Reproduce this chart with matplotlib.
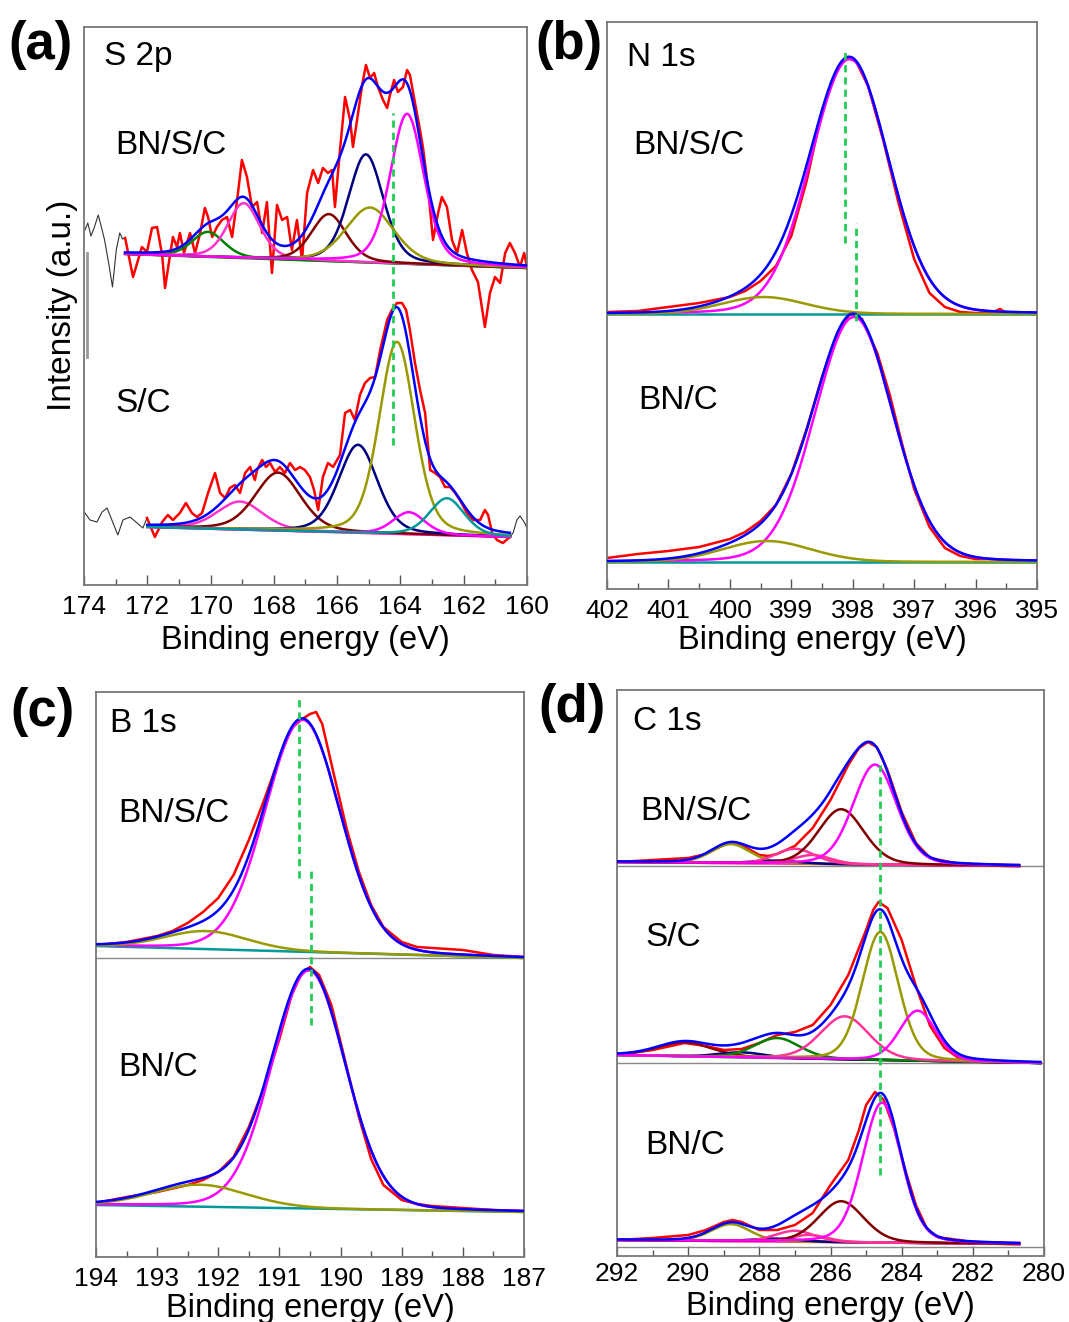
import numpy as np
import matplotlib.pyplot as plt
from matplotlib.ticker import MultipleLocator

plt.rcParams['font.family'] = ['Liberation Sans', 'DejaVu Sans']

W, H = 1069, 1322

# ---------------- (a) S 2p ----------------
# BN/S/C measured curve (binding energy, intensity a.u.)
a_top_e = [172.70, 172.45, 172.17, 172.01, 171.85, 171.69, 171.53, 171.44, 171.28, 171.19,
           171.06, 170.97, 170.84, 170.65, 170.49, 170.33, 170.18, 170.08, 169.95, 169.80,
           169.64, 169.48, 169.32, 169.16, 169.01, 168.85, 168.69, 168.53, 168.37, 168.22,
           168.06, 167.90, 167.74, 167.58, 167.43, 167.27, 167.11, 166.95, 166.76, 166.60,
           166.45, 166.29, 166.16, 166.07, 165.91, 165.75, 165.59, 165.50, 165.37, 165.21,
           165.09, 164.96, 164.83, 164.71, 164.55, 164.42, 164.33, 164.20, 164.08, 163.92,
           163.79, 163.70, 163.54, 163.41, 163.29, 163.13, 162.97, 162.81, 162.69, 162.53,
           162.37, 162.21, 162.05, 161.90, 161.74, 161.55, 161.33, 161.17, 161.01, 160.85,
           160.69, 160.54, 160.38, 160.22, 160.09, 160.00]
a_top_i = [347, 308, 338, 333, 357, 358, 330, 297, 330, 348,
           338, 352, 332, 352, 332, 352, 377, 368, 348, 358,
           365, 368, 348, 385, 425, 408, 378, 383, 352, 383,
           312, 380, 365, 368, 335, 365, 325, 392, 415, 402,
           417, 412, 415, 378, 435, 488, 465, 438, 465, 500,
           520, 507, 512, 498, 485, 477, 490, 505, 493, 498,
           515, 510, 482, 460, 438, 398, 345, 372, 388, 378,
           345, 332, 355, 332, 315, 303, 258, 292, 308, 302,
           332, 342, 332, 318, 332, 318]
# survey tail drawn in thin black
a_top_tail_e = [173.97, 173.88, 173.78, 173.68, 173.55, 173.45, 173.35, 173.21, 173.10, 172.98,
                172.87, 172.78, 172.70]
a_top_tail_i = [355, 362, 349, 357, 370, 358, 345, 320, 298, 335, 352, 346, 347]
# fitted components: centre (eV), height, FWHM
a_top_centers = [170.08, 168.95, 166.26, 165.09, 164.96, 163.79]
a_top_heights = [25, 55, 47, 108, 55, 150]
a_top_fwhm = [1.2, 1.2, 1.3, 1.3, 1.8, 1.25]
a_top_base = (331, 317)

# S/C measured curve
a_bot_e = [172.01, 171.76, 171.53, 171.35, 171.19, 170.97, 170.78, 170.59, 170.43, 170.27,
           170.08, 169.86, 169.70, 169.54, 169.39, 169.23, 169.07, 168.91, 168.75, 168.60,
           168.53, 168.37, 168.25, 168.12, 167.96, 167.81, 167.65, 167.49, 167.33, 167.17,
           167.02, 166.86, 166.73, 166.60, 166.45, 166.29, 166.13, 165.91, 165.75, 165.59,
           165.44, 165.28, 165.12, 164.96, 164.80, 164.64, 164.42, 164.27, 164.11, 163.95,
           163.82, 163.70, 163.54, 163.38, 163.22, 163.06, 162.91, 162.75, 162.59, 162.43,
           162.27, 162.12, 161.90, 161.71, 161.48, 161.33, 161.23, 161.10, 160.95, 160.76,
           160.54]
a_bot_i = [67, 48, 63, 70, 65, 72, 82, 72, 68, 72,
           92, 112, 92, 87, 97, 100, 92, 112, 118, 105,
           115, 125, 118, 122, 113, 118, 112, 122, 115, 118,
           115, 108, 95, 75, 108, 122, 118, 130, 172, 175,
           165, 190, 202, 207, 208, 235, 265, 275, 282, 282,
           275, 255, 222, 195, 172, 115, 112, 108, 98, 98,
           92, 85, 72, 65, 65, 75, 70, 52, 45, 42,
           48]
a_bot_tail_e = [173.97, 173.81, 173.59, 173.43, 173.27, 173.12, 172.93, 172.77, 172.55, 172.32,
                172.14, 172.01]
a_bot_tail_i = [72, 65, 63, 73, 77, 65, 50, 65, 68, 62, 57, 67]
a_bot_end_e = [160.54, 160.44, 160.32, 160.22, 160.09, 160.00]
a_bot_end_i = [48, 52, 65, 69, 63, 57]
a_bot_centers = [169.07, 167.87, 165.34, 164.11, 163.73, 162.53]
a_bot_heights = [28, 58, 88, 192, 22, 37]
a_bot_fwhm = [1.7, 1.7, 1.45, 1.33, 1.2, 1.3]
a_bot_base = (58, 48)

# ---------------- (b) N 1s ----------------
b_top_e = [402.0, 401.5, 401.0, 400.5, 400.0, 399.75, 399.5, 399.25, 399.0, 398.75,
           398.5, 398.25, 398.1, 397.95, 397.75, 397.5, 397.25, 397.0, 396.75, 396.5,
           396.25, 396.0, 395.75, 395.6, 395.5, 395.0]
b_top_i = [277, 278, 282, 286, 292, 298, 308, 323, 353, 408,
           478, 520, 531, 528, 503, 448, 385, 330, 296, 282,
           277, 276, 276, 280, 276, 275]
b_top_centers = [398.05, 399.45]
b_top_heights = [255, 17]
b_top_fwhm = [1.5, 1.6]
b_top_base = (275, 275)

b_bot_e = [402.0, 401.5, 401.0, 400.5, 400.0, 399.75, 399.5, 399.25, 399.0, 398.75,
           398.5, 398.25, 398.05, 397.85, 397.6, 397.4, 397.2, 397.0, 396.75, 396.5,
           396.25, 396.0, 395.7, 395.5, 395.0]
b_bot_i = [31, 35, 38, 42, 50, 57, 68, 84, 115, 160,
           212, 256, 275, 270, 236, 195, 146, 100, 62, 41,
           33, 30, 30, 29, 28]
b_bot_centers = [397.98, 399.4]
b_bot_heights = [245, 21]
b_bot_fwhm = [1.5, 1.7]
b_bot_base = (27, 27)

# ---------------- (c) B 1s ----------------
c_top_e = [194.0, 193.5, 193.0, 192.75, 192.5, 192.25, 192.0, 191.75, 191.5, 191.25,
           191.0, 190.8, 190.65, 190.5, 190.4, 190.3, 190.1, 189.9, 189.7, 189.5,
           189.3, 189.0, 188.75, 188.5, 188.0, 187.5, 187.0]
c_top_i = [312, 315, 321, 326, 334, 345, 359, 382, 417, 457,
           500, 529, 537, 543, 545, 533, 480, 428, 385, 352,
           330, 315, 310, 309, 307, 302, 300]
c_top_centers = [190.62, 192.2]
c_top_heights = [232, 18]
c_top_fwhm = [1.45, 1.6]
c_top_base = (311, 299)

c_bot_e = [194.0, 193.5, 193.0, 192.5, 192.25, 192.0, 191.75, 191.5, 191.25, 191.0,
           190.8, 190.65, 190.5, 190.35, 190.15, 189.9, 189.7, 189.5, 189.3, 189.0,
           188.75, 188.5, 188.0, 187.5, 187.0]
c_bot_i = [54, 60, 65, 72, 77, 85, 100, 130, 170, 218,
           262, 282, 290, 282, 252, 190, 140, 98, 72, 57,
           53, 51, 49, 47, 46]
c_bot_centers = [190.52, 192.3]
c_bot_heights = [238, 22]
c_bot_fwhm = [1.42, 1.8]
c_bot_base = (52, 45)

# ---------------- (d) C 1s ----------------
d_top_e = [292.0, 291.0, 290.0, 289.5, 289.0, 288.75, 288.5, 288.0, 287.75, 287.5,
           287.0, 286.5, 286.0, 285.5, 285.2, 284.95, 284.7, 284.4, 284.0, 283.6,
           283.2, 282.5, 282.0, 281.0, 280.7]
d_top_i = [386, 388, 390, 394, 403, 406, 403, 393, 392, 394,
           402, 420, 448, 483, 500, 506, 501, 478, 436, 405,
           390, 385, 384, 383, 383]
d_top_centers = [288.8, 287.5, 287.0, 286.5, 285.7, 284.75]
d_top_heights = [19, 3, 15, 9, 55, 100]
d_top_fwhm = [1.3, 1.5, 1.3, 1.2, 1.5, 1.45]
d_top_base = (386, 382)

d_mid_e = [292.0, 291.0, 290.1, 289.5, 289.0, 288.5, 288.0, 287.5, 287.0, 286.5,
           286.0, 285.5, 285.0, 284.8, 284.65, 284.4, 284.0, 283.6, 283.2, 282.8,
           282.4, 282.0, 281.0, 280.1]
d_mid_i = [193, 198, 205, 202, 198, 199, 205, 213, 216, 223,
           243, 273, 318, 338, 346, 340, 308, 262, 222, 200,
           190, 187, 186, 185]
d_mid_centers = [290.1, 288.5, 287.5, 285.6, 284.6, 283.55]
d_mid_heights = [14, 5, 20, 43, 128, 50]
d_mid_fwhm = [1.8, 1.5, 1.5, 1.6, 1.2, 1.2]
d_mid_base = (193, 185)

d_bot_e = [292.0, 291.0, 290.0, 289.5, 289.0, 288.75, 288.5, 288.0, 287.5, 287.0,
           286.5, 286.0, 285.5, 285.2, 285.0, 284.75, 284.5, 284.2, 283.9, 283.6,
           283.3, 283.0, 282.0, 281.0, 280.7]
d_bot_i = [8, 10, 13, 18, 26, 28, 26, 18, 18, 23,
           35, 63, 88, 118, 143, 156, 148, 118, 78, 43,
           20, 11, 6, 5, 5]
d_bot_centers = [288.8, 287.5, 287.0, 286.6, 285.7, 284.55]
d_bot_heights = [17, 3, 11, 7, 41, 140]
d_bot_fwhm = [1.3, 1.5, 1.3, 1.2, 1.5, 1.3]
d_bot_base = (8, 4)

# colours of the fitted components
a_top_colors = ['#008000', '#ff33cc', '#800000', '#000080', '#999900', '#ff00ff']
a_bot_colors = ['#ff33cc', '#800000', '#000080', '#999900', '#ff00ff', '#009999']
bc_colors = ['#ff00ff', '#999900']
d_top_colors = ['#999900', '#000080', '#ff3399', '#ff3399', '#800000', '#ff00ff']
d_mid_colors = ['#990000', '#000080', '#008000', '#ff3399', '#999900', '#ff00ff']
d_bot_colors = ['#999900', '#000080', '#ff3399', '#ff3399', '#800000', '#ff00ff']


def peak(x, c, h, w, eta):
    g = np.exp(-4 * np.log(2) * (x - c) ** 2 / w ** 2)
    lo = 1.0 / (1 + 4 * (x - c) ** 2 / w ** 2)
    return h * ((1 - eta) * g + eta * lo)


def draw_fit(ax, e_hi, e_lo, raw_e, raw_i, base, centers, heights, widths, colors,
             base_color, eta=0.2, lw=1.8):
    x = np.linspace(e_lo, e_hi, 600)
    b = base[1] + (base[0] - base[1]) * (x - e_lo) / (e_hi - e_lo)
    ax.plot(raw_e, raw_i, color='#ff0000', lw=lw, zorder=2)
    ax.plot(x, b, color=base_color, lw=lw, zorder=3)
    total = np.zeros_like(x)
    for c, h, w, col in zip(centers, heights, widths, colors):
        p = peak(x, c, h, w, eta)
        total += p
        ax.plot(x, b + p, color=col, lw=lw, zorder=3)
    ax.plot(x, b + total, color='#0000ff', lw=lw, zorder=4)


def make_axes(fig, left, top, right, bottom, xmax, xmin, major, ymin, ymax, pad=7):
    ax = fig.add_axes([left / W, 1 - bottom / H, (right - left) / W, (bottom - top) / H])
    ax.set_xlim(xmax, xmin)
    ax.set_ylim(ymin, ymax)
    ax.xaxis.set_major_locator(MultipleLocator(major))
    ax.xaxis.set_minor_locator(MultipleLocator(major / 2))
    ax.set_yticks([])
    ax.tick_params(axis='x', which='both', direction='in', top=False, labelsize=19,
                   pad=pad, colors='black')
    ax.tick_params(axis='x', which='major', length=7, width=1.0, color='#555555')
    ax.tick_params(axis='x', which='minor', length=4, width=1.0, color='#555555')
    for s in ax.spines.values():
        s.set_color('#777777')
        s.set_linewidth(1.3)
    return ax


def label(fig, x, y, s, size=24, weight='normal', ha='left', rot=0):
    fig.text(x / W, 1 - y / H, s, fontsize=size, fontweight=weight, ha=ha, va='center',
             rotation=rot, color='black')


def vdash(ax, e, y0, y1):
    ax.plot([e, e], [y0, y1], color='#22cc55', lw=2.0, linestyle=(0, (2.6, 1.8)), zorder=5)


fig = plt.figure(figsize=(W / 100, H / 100), dpi=100)

# (a)
ax = make_axes(fig, 84, 27, 527, 585, 174, 160, 2, 0, 558)
ax.plot(a_top_tail_e, a_top_tail_i, color='#333333', lw=0.8)
ax.plot(a_bot_tail_e, a_bot_tail_i, color='#333333', lw=0.8)
ax.plot(a_bot_end_e, a_bot_end_i, color='#333333', lw=0.8)
draw_fit(ax, 172.7, 160.0, a_top_e, a_top_i, a_top_base, a_top_centers, a_top_heights,
         a_top_fwhm, a_top_colors, '#008000', eta=0.3)
draw_fit(ax, 172.0, 160.54, a_bot_e, a_bot_i, a_bot_base, a_bot_centers, a_bot_heights,
         a_bot_fwhm, a_bot_colors, '#ff1493', eta=0.3)
vdash(ax, 164.23, 140, 472)
ax.plot([173.9, 173.9], [228, 332], color='#999999', lw=2.0, clip_on=False)

# (b)
ax = make_axes(fig, 607, 22, 1037, 589, 402, 395, 1, 0, 567)
draw_fit(ax, 402.0, 395.0, b_top_e, b_top_i, b_top_base, b_top_centers, b_top_heights,
         b_top_fwhm, bc_colors, '#009999', eta=0.1)
draw_fit(ax, 402.0, 395.0, b_bot_e, b_bot_i, b_bot_base, b_bot_centers, b_bot_heights,
         b_bot_fwhm, bc_colors, '#009999', eta=0.1)
vdash(ax, 398.13, 346, 541)
vdash(ax, 397.95, 268, 366)

# (c)
ax = make_axes(fig, 96, 692, 524, 1257, 194, 187, 1, 0, 565)
ax.axhline(299, color='#888888', lw=1.0)
draw_fit(ax, 194.0, 187.0, c_top_e, c_top_i, c_top_base, c_top_centers, c_top_heights,
         c_top_fwhm, bc_colors, '#009999', eta=0.1)
draw_fit(ax, 194.0, 187.0, c_bot_e, c_bot_i, c_bot_base, c_bot_centers, c_bot_heights,
         c_bot_fwhm, bc_colors, '#009999', eta=0.1)
vdash(ax, 190.68, 379, 560)
vdash(ax, 190.48, 232, 391)

# (d)
ax = make_axes(fig, 617, 690, 1044, 1256, 292, 280, 2, -8, 558, pad=4)
ax.axhline(382, color='#888888', lw=1.0)
ax.axhline(185, color='#888888', lw=1.0)
ax.axhline(1, color='#888888', lw=1.0)
draw_fit(ax, 292.0, 280.7, d_top_e, d_top_i, d_top_base, d_top_centers, d_top_heights,
         d_top_fwhm, d_top_colors, '#ff3399')
draw_fit(ax, 292.0, 280.1, d_mid_e, d_mid_i, d_mid_base, d_mid_centers, d_mid_heights,
         d_mid_fwhm, d_mid_colors, '#008000')
draw_fit(ax, 292.0, 280.7, d_bot_e, d_bot_i, d_bot_base, d_bot_centers, d_bot_heights,
         d_bot_fwhm, d_bot_colors, '#ff3399')
vdash(ax, 284.61, 73, 483)

# texts
label(fig, 8, 45, '(a)', size=38, weight='bold')
label(fig, 535, 45, '(b)', size=38, weight='bold')
label(fig, 10, 712, '(c)', size=38, weight='bold')
label(fig, 538, 708, '(d)', size=38, weight='bold')

label(fig, 104, 57, 'S 2p')
label(fig, 115, 145, 'BN/S/C')
label(fig, 115, 403, 'S/C')
label(fig, 627, 57, 'N 1s')
label(fig, 633, 145, 'BN/S/C')
label(fig, 638, 400, 'BN/C')
label(fig, 110, 724, 'B 1s')
label(fig, 118, 813, 'BN/S/C')
label(fig, 118, 1068, 'BN/C')
label(fig, 633, 722, 'C 1s')
label(fig, 640, 812, 'BN/S/C')
label(fig, 645, 937, 'S/C')
label(fig, 645, 1145, 'BN/C')

label(fig, 62, 305, 'Intensity (a.u.)', ha='center', rot=90)
label(fig, 305, 640, 'Binding energy (eV)', size=23.5, ha='center')
label(fig, 822, 640, 'Binding energy (eV)', size=23.5, ha='center')
label(fig, 310, 1308, 'Binding energy (eV)', size=23.5, ha='center')
label(fig, 830, 1306, 'Binding energy (eV)', size=23.5, ha='center')

fig.savefig('out.png', dpi=100)
